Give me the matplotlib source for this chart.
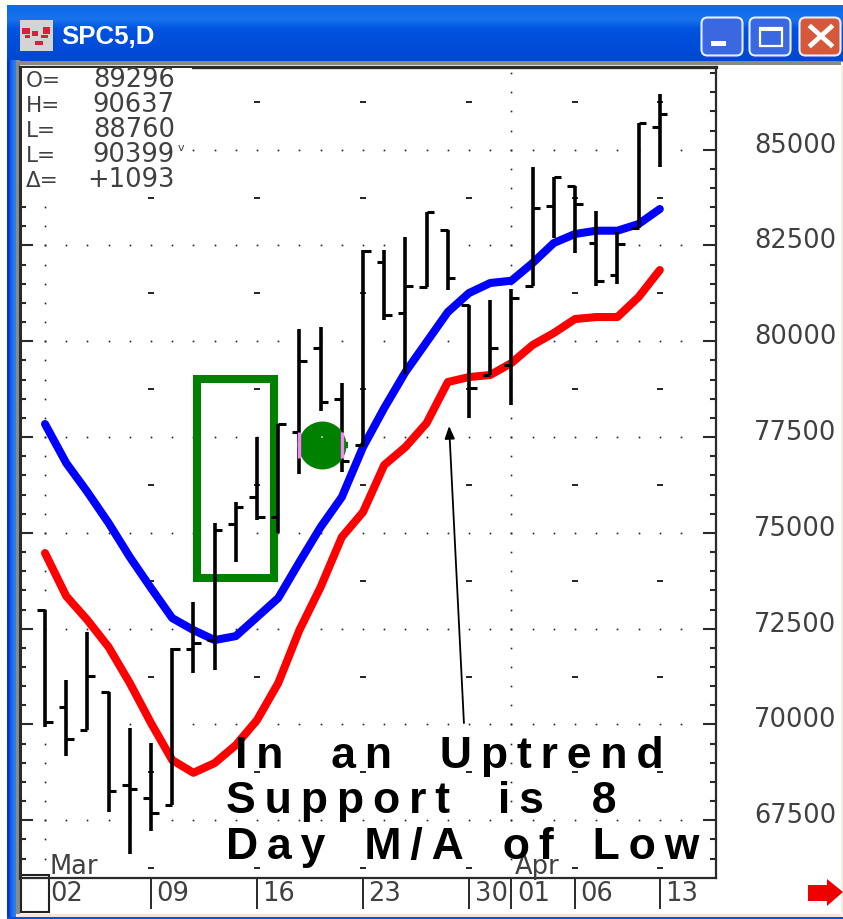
import numpy as np
import matplotlib
matplotlib.use("Agg")
import matplotlib.pyplot as plt
from matplotlib.patches import Rectangle, FancyBboxPatch, Polygon

# daily bars
opens = [72986, 70462, 69854, 70838, 68419, 68079, 67897, 71968, 72203, 75231,
         75935, 75421, 77632, 79824, 78493, 77300, 82077, 80738, 81424, 82904,
         80947, 79120, 79380, 81450, 83530, 84052, 82573, 81729, 82964, 85585]
highs = [72986, 71159, 72412, 70838, 69906, 69515, 71994, 73195, 75265, 75813,
         77509, 77841, 80320, 80372, 78911, 82382, 82382, 82721, 83374, 82904,
         80947, 81077, 81364, 84556, 84295, 84052, 83408, 82860, 85705, 86454]
lows = [69940, 69183, 69854, 67722, 66618, 67226, 67897, 71342, 71420, 74239,
        75335, 74996, 76536, 78188, 76588, 77274, 80555, 79146, 81424, 81338,
        78000, 79120, 78336, 81450, 82695, 82304, 81442, 81494, 82964, 84540]
closes = [70063, 69619, 71263, 68270, 68314, 67688, 71968, 72133, 75074, 75674,
          75421, 77841, 79485, 78423, 76875, 82356, 80686, 81450, 83374, 81643,
          78780, 79824, 81137, 83486, 84295, 83583, 81573, 82531, 85705, 85932]

# moving averages
ma_high = [77841, 76823, 76066, 75257, 74369, 73560, 72777, 72464, 72203, 72307,
           72803, 73299, 74239, 75152, 75935, 77240, 78258, 79198, 79981, 80764,
           81260, 81521, 81581, 82043, 82565, 82800, 82886, 82886, 83061, 83452]
ma_low = [74474, 73351, 72725, 72020, 71081, 70037, 69071, 68739, 68993, 69462,
          70115, 71081, 72464, 73586, 74891, 75544, 76771, 77240, 77867, 78937,
          79067, 79120, 79433, 79903, 80216, 80581, 80633, 80633, 81155, 81860]

price_ticks = [67500, 70000, 72500, 75000, 77500, 80000, 82500, 85000]
date_ticks = [5, 10, 15, 20, 22, 25, 29]
date_labels = ["09", "16", "23", "30", "01", "06", "13"]
readout_names = ["O=", "H=", "L=", "L=", "Δ="]
readout_values = ["89296", "90637", "88760", "90399", "+1093"]
note_lines = ["In an Uptrend", "Support is 8", "Day M/A of Low"]

W, H = 843, 919
THIN = "\u2009"
GREY = "#404040"


def spaced(s, word_gap):
    # matplotlib has no letter spacing, thin spaces do the job
    return THIN.join(s).replace(" ", " " + THIN * word_gap)


fig = plt.figure(figsize=(W / 100, H / 100), dpi=100, facecolor="white")

# window chrome, in pixels
bg = fig.add_axes([0, 0, 1, 1], zorder=0)
bg.set_xlim(0, W)
bg.set_ylim(H, 0)
bg.axis("off")
title_cols = np.array([[0.05, 0.42, 0.90], [0.10, 0.45, 0.93], [0.00, 0.33, 0.88],
                       [0.00, 0.31, 0.86], [0.00, 0.30, 0.85], [0.00, 0.28, 0.82]])
bg.imshow(title_cols[:, None, :], extent=[7, W, 62, 5], aspect="auto", interpolation="bilinear")
side_cols = np.array([[[0.00, 0.20, 0.85], [0.10, 0.40, 0.90], [0.15, 0.50, 0.93]]])
bg.imshow(side_cols, extent=[7, 16, H, 60], aspect="auto", interpolation="bilinear")
bg.set_xlim(0, W)
bg.set_ylim(H, 0)
bg.add_patch(Rectangle((16, 60), 4, 855, fc="#8a8a86", ec="none"))
bg.add_patch(Rectangle((16, 61), W - 16, 4, fc="#8a8a80", ec="none"))
bg.add_patch(Rectangle((16, 914), W - 16, 3, fc="#ece9d8", ec="none"))
bg.add_patch(Rectangle((7, 917), W - 7, 2, fc="#0a50e0", ec="none"))
bg.add_patch(Rectangle((841, 62), 2, 855, fc="#f4f2e4", ec="none"))

# icon
bg.add_patch(Rectangle((20, 20), 33, 31, fc="#d4d4d4", ec="none"))
for x0, y0, w, h in [(22, 28, 8, 6), (32, 31, 6, 5), (43, 27, 7, 7), (35, 41, 8, 4), (25, 35, 5, 3), (41, 35, 7, 3)]:
    bg.add_patch(Rectangle((x0, y0), w, h, fc="#d8203a", ec="none"))
bg.text(61, 37, "SPC5,D", color="white", fontsize=18.6, fontweight="bold",
        family="Liberation Sans", va="center", ha="left")

# window buttons
for x0, col in [(701, "#3a68e0"), (749, "#3a68e0"), (799, "#d5583a")]:
    bg.add_patch(FancyBboxPatch((x0 + 0.5, 17.5), 41, 38, boxstyle="round,pad=0,rounding_size=6",
                                fc=col, ec="#e8eefc", lw=1.5))
bg.add_patch(Rectangle((711, 41), 15, 5, fc="white", ec="none"))
bg.add_patch(Rectangle((760, 28), 22, 18, fc="none", ec="white", lw=1.6))
bg.add_patch(Rectangle((760, 27), 22, 4, fc="white", ec="none"))
bg.plot([811, 831], [27, 45], color="white", lw=3.4)
bg.plot([831, 811], [27, 45], color="white", lw=3.4)

# box in the corner and red arrow
bg.add_patch(Rectangle((20.5, 875), 28, 37, fc="none", ec="#222222", lw=1.5))
bg.add_patch(Polygon([(808, 885), (827, 885), (827, 879), (843, 892), (827, 906), (827, 901), (808, 901)],
                     fc="#ee0000", ec="none"))

# chart
ax = fig.add_axes([20 / W, 1 - 877.7 / H, 696 / W, (877.7 - 66.5) / H], zorder=1)
ax.patch.set_alpha(0)
ax.set_xlim(-1.18, 31.65)
ax.set_ylim(66002, 87171)
days = np.arange(len(closes))

# dotted grid
for p in price_ticks:
    ax.plot(np.arange(0, 31), [p] * 31, ls="none", marker="s", ms=1.2, mew=0, color="#222222", zorder=1)
minor = np.arange(66500, 87500, 500)
for d in [0, 22]:
    ax.plot([d] * len(minor), minor, ls="none", marker="s", ms=1.2, mew=0, color="#222222", zorder=1)
dash_levels = np.arange(66250, 86500, 2500)
for d in date_ticks:
    if d != 22:
        ax.plot([d] * len(dash_levels), dash_levels, ls="none", marker="_", ms=4, mew=1.4,
                color="#222222", zorder=1)

# green box from the annotation
ax.add_patch(Rectangle((7.19, 73821), 3.61, 5194, fc="none", ec="#008000", lw=5.8, zorder=2))

ax.plot(days, ma_high, color="#0000ff", lw=5.8, solid_capstyle="round", solid_joinstyle="round", zorder=3)
ax.plot(days, ma_low, color="#ff0000", lw=5.8, solid_capstyle="round", solid_joinstyle="round", zorder=3)

# OHLC bars
ax.vlines(days, lows, highs, color="black", lw=2.6, zorder=4)
ax.hlines(opens, days - 0.36, days, color="black", lw=2.2, zorder=4)
ax.hlines(closes, days, days + 0.36, color="black", lw=2.2, zorder=4)

# green dot
ax.hlines([77293], [11.89], [14.3], color="#008000", lw=4.5, zorder=5)
ax.plot([13.05], [77293], marker="o", ms=34.5, color="#008000", mew=0, zorder=5)
ax.vlines([12, 14], [76950], [77620], color="#ff80ff", lw=2.4, zorder=6)
ax.plot([13.05], [77500], marker="s", ms=1.5, mew=0, color="#99bb99", zorder=6)

# arrow
ax.annotate("", xy=(19.06, 77790), xytext=(19.76, 70037),
            arrowprops=dict(arrowstyle="-|>,head_length=0.75,head_width=0.3", color="black", lw=1.3,
                            shrinkA=0, shrinkB=0), zorder=7)

# axes frame and ticks
for s in ax.spines.values():
    s.set_color("#2a2a2a")
    s.set_linewidth(1.6)
ax.spines["top"].set_linewidth(2.4)
ax.spines["left"].set_linewidth(2.2)
ax.set_yticks(price_ticks)
ax.set_yticks(minor, minor=True)
ax.set_yticklabels([])
ax.tick_params(axis="y", which="major", direction="in", length=9.4, width=1.5, left=True, right=True, color="#2a2a2a")
ax.tick_params(axis="y", which="minor", direction="in", length=4.3, width=1.5, left=True, right=True, color="#2a2a2a")
ax.set_xticks(date_ticks)
ax.set_xticklabels([])
ax.tick_params(axis="x", direction="out", length=22, width=1.4, color="#2a2a2a")

# price labels sit a little above their ticks
for p in price_ticks:
    ax.annotate(str(p), xy=(1, p), xycoords=ax.get_yaxis_transform(), xytext=(27.4, 2.9),
                textcoords="offset points", fontsize=18.5, color=GREY, va="center", ha="left",
                annotation_clip=False)

# date labels sit to the right of their ticks
trans = ax.get_xaxis_transform()
ax.annotate("02", xy=(0, 0), xycoords=trans, xytext=(3.5, -11.5), textcoords="offset points",
            fontsize=18.5, color=GREY, va="center", ha="left", annotation_clip=False)
for d, lab in zip(date_ticks, date_labels):
    ax.annotate(lab, xy=(d, 0), xycoords=trans, xytext=(4, -11.5), textcoords="offset points",
                fontsize=18.5, color=GREY, va="center", ha="left", annotation_clip=False)

# readout block and note go on top of the chart
top = fig.add_axes([0, 0, 1, 1], zorder=2)
top.set_xlim(0, W)
top.set_ylim(H, 0)
top.axis("off")
top.add_patch(Rectangle((22, 68), 170, 123, fc="white", ec="none", zorder=1))
for y, name, val in zip([87, 111.7, 136.7, 161.5, 186.7], readout_names, readout_values):
    top.text(26, y, name, fontsize=15.5, color=GREY, va="baseline", ha="left", zorder=2)
    top.text(175, y, val, fontsize=18.5, color=GREY, va="baseline", ha="right", zorder=2)
top.text(178, 148, "v", fontsize=8, color=GREY, va="center", ha="left", zorder=2)
top.text(49, 874, "Mar", fontsize=18.5, color=GREY, va="baseline", ha="left", zorder=2)
top.text(515, 874, "Apr", fontsize=18.5, color=GREY, va="baseline", ha="left", zorder=2)

# the note across the bottom
for x, y, line, gap in zip([235, 226, 226], [768, 813, 859], note_lines, [2, 2, 1]):
    top.text(x, y, spaced(line, gap), fontsize=32, fontweight="bold", color="black",
             family=["Liberation Sans", "DejaVu Sans"], va="baseline", ha="left", zorder=3)

fig.savefig("out.png", dpi=100, facecolor="white")
